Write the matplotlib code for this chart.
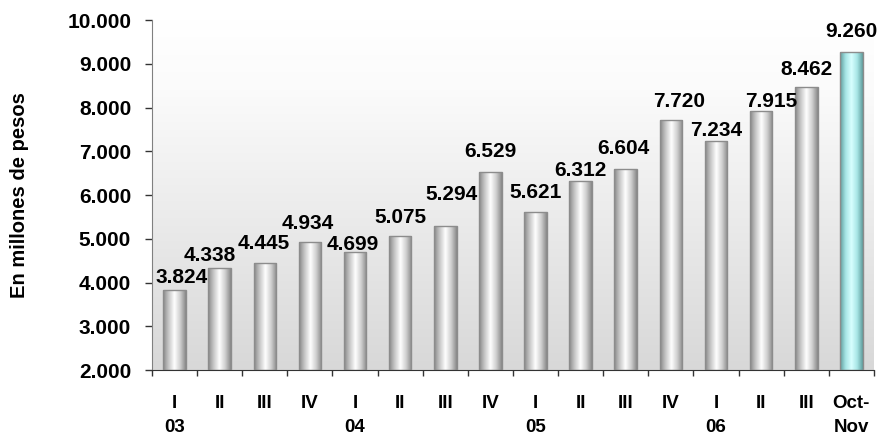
import numpy as np
import matplotlib.pyplot as plt
from matplotlib.colors import LinearSegmentedColormap

plt.rcParams['font.family'] = ['Liberation Sans', 'DejaVu Sans']
plt.rcParams['font.weight'] = 'bold'

# datos
trimestres = ['I', 'II', 'III', 'IV', 'I', 'II', 'III', 'IV',
              'I', 'II', 'III', 'IV', 'I', 'II', 'III', 'Oct-']
anios = ['03', '', '', '', '04', '', '', '', '05', '', '', '', '06', '', '', 'Nov']
valores = [3824, 4338, 4445, 4934, 4699, 5075, 5294, 6529,
           5621, 6312, 6604, 7720, 7234, 7915, 8462, 9260]
ticks_y = [2000, 3000, 4000, 5000, 6000, 7000, 8000, 9000, 10000]

# desplazamiento de las etiquetas (pixeles) respecto al tope de cada barra
etiq_dx = [7, -10, -1, -2, -2, 0, 6, 0, 0, 0, -2, 8, 0, 10, 0, 0]
etiq_dy = [7, 7, 14, 13, 2, 13, 26, 15, 14, 5, 15, 13, 5, 4, 12, 15]


def formato(v):
    return f"{v:,}".replace(",", ".")


fig = plt.figure(figsize=(8.81, 4.4), dpi=100)
ax = fig.add_axes([0.1725, 0.159, 0.8195, 0.7955])

# fondo degradado (blanco arriba, gris abajo)
fondo = LinearSegmentedColormap.from_list('fondo', [(0, '#d8d8d8'), (0.8, '#fbfbfb'), (1, '#ffffff')])
grad_v = np.linspace(0, 1, 256).reshape(-1, 1)
ax.imshow(grad_v, cmap=fondo, origin='lower', aspect='auto', extent=[0, 1, 0, 1],
          transform=ax.transAxes, zorder=0)

# barras tipo cilindro
base = ticks_y[0]
gris = LinearSegmentedColormap.from_list('gris', ['#888888', '#c8c8c8', '#ffffff', '#d0d0d0', '#888888'])
cian = LinearSegmentedColormap.from_list('cian', ['#5f9c9c', '#a8e6e6', '#d8ffff', '#a8e6e6', '#5f9c9c'])
x = np.arange(len(valores))
alturas = [v - base for v in valores]
barras = ax.bar(x, alturas, width=0.5, bottom=base, color='none', edgecolor='#8c8c8c',
                linewidth=1.0, zorder=3)
grad_h = np.linspace(0, 1, 128).reshape(1, -1)
for i, rect in enumerate(barras):
    cmap = cian if i == len(valores) - 1 else gris
    x0 = rect.get_x()
    im = ax.imshow(grad_h, cmap=cmap, aspect='auto',
                   extent=[x0, x0 + rect.get_width(), base, valores[i]], zorder=2)
    im.set_clip_path(rect)
    ax.annotate(formato(valores[i]), (x[i], valores[i]), xytext=(etiq_dx[i], etiq_dy[i]),
                textcoords='offset pixels', ha='center', va='baseline',
                fontsize=15, fontweight='bold', zorder=4)

ax.set_xlim(-0.5, len(valores) - 0.5)
ax.set_ylim(2000, 10000)

ax.set_yticks(ticks_y)
ax.set_yticklabels([formato(t) for t in ticks_y], fontsize=15, fontweight='bold')
ax.tick_params(axis='y', length=5, width=1, pad=10, color='#333333')

ax.set_xticks(x)
ax.set_xticklabels([f"{t}\n{a}" for t, a in zip(trimestres, anios)],
                   fontsize=13.5, fontweight='bold', linespacing=1.5)
ax.set_xticks(np.arange(-0.5, len(valores)), minor=True)
ax.tick_params(axis='x', which='major', length=0, pad=18)
ax.tick_params(axis='x', which='minor', length=4, width=1, color='#333333')

ax.set_ylabel('En millones de pesos', fontsize=14.5, fontweight='bold')
ax.yaxis.set_label_coords(-0.170, 0.5)

for lado in ['top', 'right']:
    ax.spines[lado].set_visible(False)
ax.spines['left'].set_color('#808080')
ax.spines['bottom'].set_color('#333333')

fig.savefig('out.png', dpi=100)
